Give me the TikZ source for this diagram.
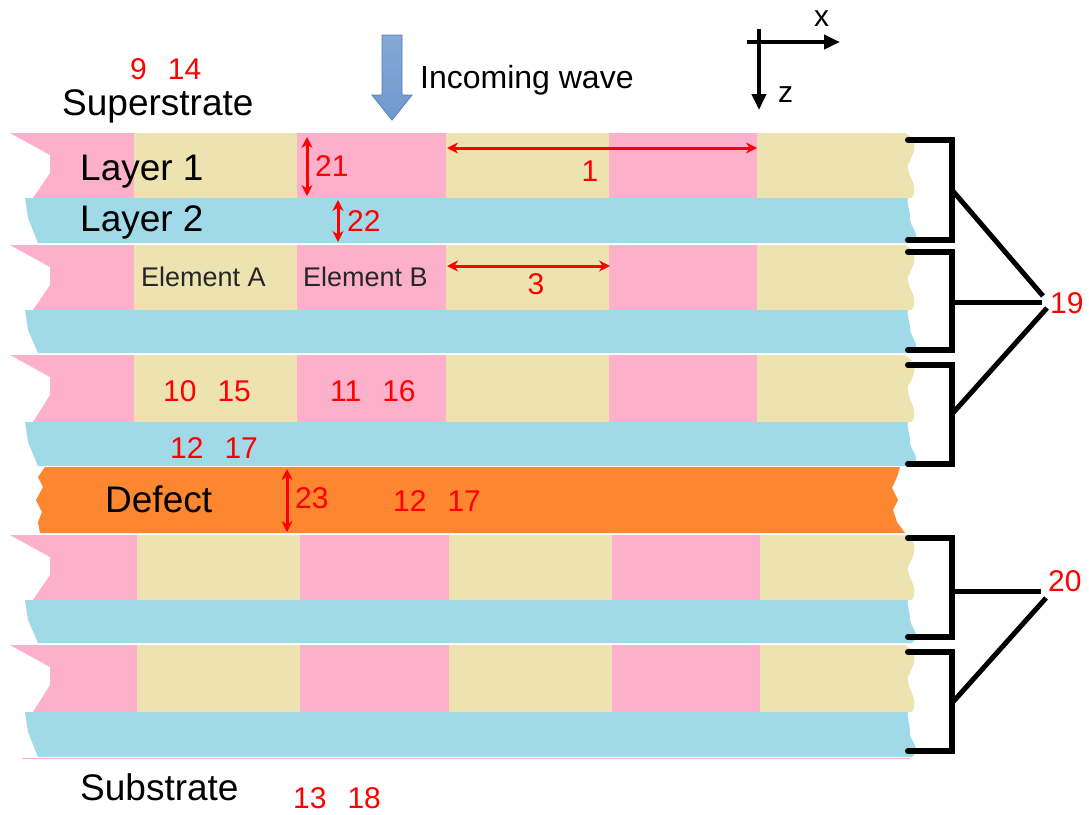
\documentclass[tikz,border=0pt]{standalone}
\usepackage{fontspec}
\setmainfont{Liberation Sans}
\usetikzlibrary{arrows.meta}
\definecolor{pinkc}{RGB}{253,176,201}
\definecolor{tanc}{RGB}{237,227,177}
\definecolor{bluec}{RGB}{160,218,233}
\definecolor{orangec}{RGB}{253,134,48}
\definecolor{wavec}{RGB}{112,153,207}
\definecolor{waveedge}{RGB}{80,125,185}
\definecolor{redc}{RGB}{255,0,0}
\newcommand\numgap{\hspace{0.7em}}
\newcommand\gratingrow[3]{%
  \begin{scope}
    \clip (10,#1) -- (50,#1+22) -- (50,#1+40) -- (33,#2) -- (912,#2)
      .. controls (920,#2-12) and (906,#2-24) .. (908,#1+32)
      .. controls (912,#1+22) and (922,#1+10) .. (905,#1) -- cycle;
    \fill[pinkc] (0,#1) rectangle (134+#3,#2);
    \fill[tanc] (134+#3,#1) rectangle (297+#3,#2);
    \fill[pinkc] (297+#3,#1) rectangle (446+#3,#2);
    \fill[tanc] (446+#3,#1) rectangle (609+#3,#2);
    \fill[pinkc] (609+#3,#1) rectangle (757+#3,#2);
    \fill[tanc] (757+#3,#1) rectangle (940,#2);
  \end{scope}}
\newcommand\bluerow[2]{%
  \fill[bluec] (25,#1) -- (28,#1+20) -- (38,#2) -- (912,#2)
      .. controls (922,#2-8) and (910,#2-16) .. (910,#2-24)
      .. controls (910,#1+10) and (906,#1+4) .. (908,#1) -- cycle;}
\tikzset{
  big/.style={font=\fontsize{37}{40}\selectfont, inner sep=0pt, anchor=base west},
  elem/.style={font=\fontsize{27}{30}\selectfont, inner sep=0pt, anchor=base west, text=black!85},
  rednum/.style={font=\fontsize{30}{32}\selectfont, text=redc, inner sep=0pt, anchor=base west},
  dimarrow/.style={draw=redc, line width=3pt, {Stealth[length=11pt,width=11pt]}-{Stealth[length=11pt,width=11pt]}},
  bracket/.style={line width=6pt, line cap=round, line join=miter},
  leader/.style={line width=5pt},
  axis/.style={line width=4pt, -{Triangle[length=16pt,width=14pt]}}
}
\begin{document}
\begin{tikzpicture}[x=1pt,y=-1pt]
\useasboundingbox (0,0) rectangle (1089,814);
% stack
\gratingrow{133}{198}{0}
\bluerow{198}{243}
\gratingrow{245}{310}{0}
\bluerow{310}{353}
\gratingrow{355}{422}{0}
\bluerow{422}{466}
\fill[orangec] (45,467) -- (38,477) -- (43,487) -- (36,500) -- (42,512) -- (38,522) -- (40,533)
  -- (905,533) -- (897,522) -- (893,510) -- (898,500) -- (892,488) -- (897,477) -- (900,467) -- cycle;
\gratingrow{535}{600}{3}
\bluerow{600}{643}
\gratingrow{645}{712}{3}
\bluerow{712}{757}
\fill[pinkc] (22,757.5) rectangle (910,759);
% incoming wave arrow
\shade[top color=wavec!85, bottom color=wavec, draw=waveedge, line width=0.8pt]
  (382,35) -- (402,35) -- (402,95) -- (412,95) -- (392,120) -- (372,95) -- (382,95) -- cycle;
% axes
\coordinate (otop) at (759,29);
\coordinate (oleft) at (747,42);
\coordinate (xend) at (840,42);
\coordinate (zend) at (759,110);
\draw[axis] (oleft) -- (xend);
\draw[axis] (otop) -- (zend);
\node[font=\fontsize{30}{32}\selectfont, inner sep=0pt, anchor=base west] (xl) at (814,26) {x};
\node[font=\fontsize{30}{32}\selectfont, inner sep=0pt, anchor=base west] (zl) at (778,102) {z};
% texts
\node[rednum] (n914) at (130,79) {9\numgap14};
\node[big] (super) at (62,115) {Superstrate};
\node[font=\fontsize{32}{35}\selectfont, inner sep=0pt, anchor=base west] (wave) at (420,88) {Incoming wave};
\node[big] (l1) at (80,180) {Layer 1};
\node[big] (l2) at (80,231) {Layer 2};
\node[elem] (ea) at (141,286) {Element A};
\node[elem] (eb) at (303,286) {Element B};
\node[rednum] (n1015) at (163,401) {10\numgap15};
\node[rednum] (n1116) at (330,401) {11\numgap16};
\node[rednum] (n1217a) at (170,458) {12\numgap17};
\node[big] (defect) at (105,512) {Defect};
\node[rednum] (n1217b) at (393,511) {12\numgap17};
\node[big] (sub) at (80,800) {Substrate};
\node[rednum] (n1318) at (293,808) {13\numgap18};
% dimension arrows
\coordinate (d21a) at (307,137); \coordinate (d21b) at (307,196);
\draw[dimarrow] (d21a) -- (d21b);
\node[rednum] (t21) at (315,176) {21};
\coordinate (d22a) at (338,200); \coordinate (d22b) at (338,242);
\draw[dimarrow] (d22a) -- (d22b);
\node[rednum] (t22) at (347,231) {22};
\coordinate (d23a) at (287,469); \coordinate (d23b) at (287,532);
\draw[dimarrow] (d23a) -- (d23b);
\node[rednum] (t23) at (295,508) {23};
\coordinate (d1a) at (447,148); \coordinate (d1b) at (757,148);
\draw[dimarrow] (d1a) -- (d1b);
\node[rednum, anchor=base] (t1) at (590,181) {1};
\coordinate (d3a) at (447,266); \coordinate (d3b) at (610,266);
\draw[dimarrow] (d3a) -- (d3b);
\node[rednum, anchor=base] (t3) at (536,294) {3};
% brackets
\draw[bracket] (908,140) -- (952,140) -- (952,240) -- (908,240);
\draw[bracket] (908,252) -- (952,252) -- (952,350) -- (908,350);
\draw[bracket] (908,365) -- (952,365) -- (952,464) -- (908,464);
\draw[bracket] (908,538) -- (952,538) -- (952,637) -- (908,637);
\draw[bracket] (908,652) -- (952,652) -- (952,751) -- (908,751);
\node[rednum] (t19) at (1050,313) {19};
\node[rednum] (t20) at (1048,591) {20};
\coordinate (b1m) at (952,190);
\coordinate (b2m) at (952,302);
\coordinate (b3m) at (952,414);
\coordinate (b4m) at (952,591);
\coordinate (b5m) at (952,703);
\coordinate (e19a) at (1043,296);
\coordinate (e19b) at (1042,302);
\coordinate (e19c) at (1047,308);
\coordinate (e20a) at (1041,591);
\coordinate (e20b) at (1046,598);
\draw[leader] (b1m) -- (e19a);
\draw[leader] (b2m) -- (e19b);
\draw[leader] (b3m) -- (e19c);
\draw[leader] (b4m) -- (e20a);
\draw[leader] (b5m) -- (e20b);
\end{tikzpicture}
\end{document}
